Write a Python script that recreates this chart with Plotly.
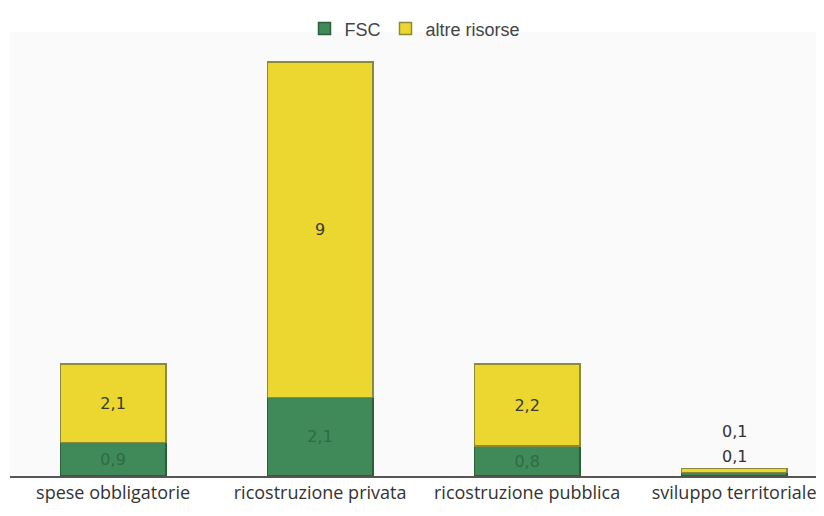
import plotly.graph_objects as go

categories = ["spese obbligatorie", "ricostruzione privata", "ricostruzione pubblica", "sviluppo territoriale"]
fsc = [0.9, 2.1, 0.8, 0.1]
altre = [2.1, 9.0, 2.2, 0.1]

def fmt(v):
    return f"{v:g}".replace(".", ",")

inside_fsc = [fmt(v) if v >= 0.5 else "" for v in fsc]
inside_altre = [fmt(v) if v >= 0.5 else "" for v in altre]

fig = go.Figure()
fig.add_trace(go.Bar(
    x=categories, y=fsc, name="FSC",
    marker=dict(color="#3f8a58", line=dict(color="#2c5e3c", width=1.5)),
    text=inside_fsc, textposition="inside", insidetextanchor="middle",
    textfont=dict(color="#2f6a44", size=16, family="DejaVu Sans"),
    width=0.51,
))
fig.add_trace(go.Bar(
    x=categories, y=altre, name="altre risorse",
    marker=dict(color="#ecd730", line=dict(color="#8a8a3a", width=1.5)),
    text=inside_altre, textposition="inside", insidetextanchor="middle",
    textfont=dict(color="#3a3a2a", size=16, family="DejaVu Sans"),
    width=0.51,
))

# small values labelled above the bar
annotations = []
for i, (f, a) in enumerate(zip(fsc, altre)):
    if f < 0.5:
        annotations.append(dict(x=categories[i], y=f + a, text=fmt(f), showarrow=False,
                                yanchor="bottom", yshift=1,
                                font=dict(size=16, color="#333", family="DejaVu Sans")))
    if a < 0.5:
        annotations.append(dict(x=categories[i], y=f + a, text=fmt(a), showarrow=False,
                                yanchor="bottom", yshift=26,
                                font=dict(size=16, color="#333", family="DejaVu Sans")))

fig.update_layout(
    barmode="stack",
    width=824, height=516,
    margin=dict(l=2, r=12, t=22, b=48),
    paper_bgcolor="white",
    plot_bgcolor="#fafafa",
    showlegend=True,
    legend=dict(orientation="h", x=0.5, xanchor="center", y=1.007, yanchor="middle",
                traceorder="normal",
                font=dict(size=18, color="#444", family="Liberation Sans"),
                itemwidth=30, bgcolor="rgba(0,0,0,0)"),
    xaxis=dict(range=[-0.498, 3.415], showline=True, linecolor="#555", linewidth=1.5,
               ticks="", tickfont=dict(size=18, color="#333", family="Open Sans"),
               showgrid=False, automargin=False),
    yaxis=dict(range=[0, 11.9], visible=False, showgrid=False, automargin=False),
    annotations=annotations,
    uniformtext=dict(mode="show", minsize=10),
)

fig.write_html("out.html")
